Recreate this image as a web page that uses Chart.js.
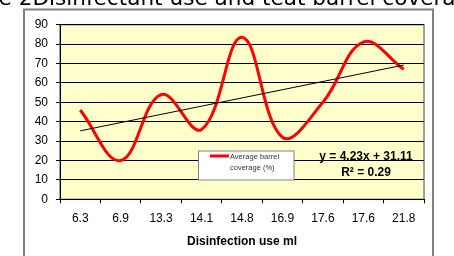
<!DOCTYPE html>
<html>
<head>
<meta charset="utf-8">
<script src="https://cdn.jsdelivr.net/npm/chart.js@4/dist/chart.umd.min.js"></script>
<style>
html,body{margin:0;padding:0;background:#fff;overflow:hidden;}
#wrap{width:454px;height:256px;position:relative;}
</style>
</head>
<body>
<div id="wrap"><canvas id="c" width="454" height="256"></canvas></div>
<script>
const titleText = "Figure 2Disinfectant use and teat barrel coverage";
const categories = ["6.3","6.9","13.3","14.1","14.8","16.9","17.6","17.6","21.8"];
const coverage = [46, 20, 54, 36, 83.5, 32, 50, 81, 67];
const trendValues = [35.3, null, null, null, null, null, null, null, 69.2];
const yTicks = [0,10,20,30,40,50,60,70,80,90];
const seriesLabel = "Average barrel coverage (%)";
const xTitle = "Disinfection use ml";
const equationLines = ["y = 4.23x + 31.11", "R\u00B2 = 0.29"];

const FONT = "'Liberation Sans', Arial, sans-serif";

const decor = {
  id: 'decor',
  beforeDraw(chart) {
    const ctx = chart.ctx, a = chart.chartArea;
    ctx.save();
    ctx.fillStyle = '#fff';
    ctx.fillRect(0,0,chart.width,chart.height);
    ctx.strokeStyle = '#808080';
    ctx.lineWidth = 2;
    ctx.strokeRect(24, 9.5, 409, 260);
    ctx.fillStyle = '#FFFFCC';
    ctx.fillRect(a.left, a.top, a.right - a.left, a.bottom - a.top);
    ctx.strokeStyle = '#808080';
    ctx.lineWidth = 1.5;
    ctx.strokeRect(a.left, a.top, a.right - a.left, a.bottom - a.top);
    // title (clipped by canvas edges)
    ctx.fillStyle = '#000';
    ctx.font = "21.6px 'DejaVu Sans', Verdana, sans-serif";
    ctx.textBaseline = 'alphabetic';
    ctx.textAlign = 'left';
    const off = ctx.measureText("Figur").width;
    ctx.fillText(titleText, -off - 1, 5);
    ctx.restore();
  },
  afterDatasetsDraw(chart) {
    const ctx = chart.ctx;
    ctx.save();
    const lx = 198.5, ly = 151, lw = 95.5, lh = 29;
    ctx.fillStyle = '#fff';
    ctx.fillRect(lx, ly, lw, lh);
    ctx.strokeStyle = '#808080';
    ctx.lineWidth = 1;
    ctx.strokeRect(lx, ly, lw, lh);
    ctx.strokeStyle = '#FF0000';
    ctx.lineWidth = 3;
    ctx.beginPath(); ctx.moveTo(210, 156); ctx.lineTo(229, 156); ctx.stroke();
    const lbl = chart.data.datasets[1].label;
    const words = lbl.split(' ');
    ctx.fillStyle = '#333';
    ctx.font = "7.5px " + FONT;
    ctx.textBaseline = 'middle';
    ctx.textAlign = 'left';
    ctx.fillText(words.slice(0,2).join(' '), 230, 157);
    ctx.fillText(words.slice(2).join(' '), 230, 167.5);
    ctx.fillStyle = '#000';
    ctx.font = "bold 12px " + FONT;
    ctx.textAlign = 'center';
    ctx.fillText(equationLines[0], 366, 157);
    ctx.fillText(equationLines[1], 366, 172.5);
    ctx.restore();
  }
};

new Chart(document.getElementById('c'), {
  type: 'line',
  data: {
    labels: categories,
    datasets: [
      {
        label: 'Linear trend',
        data: trendValues,
        spanGaps: true,
        borderColor: '#000',
        borderWidth: 1,
        pointRadius: 0,
        tension: 0,
        order: 0
      },
      {
        label: seriesLabel,
        data: coverage,
        borderColor: '#FF0000',
        borderWidth: 3,
        pointRadius: 0,
        tension: 0.4,
        fill: false,
        order: 1
      }
    ]
  },
  plugins: [decor],
  options: {
    responsive: false,
    animation: false,
    devicePixelRatio: 1,
    layout: { padding: { left: 24, right: 30, top: 24.7, bottom: 0 } },
    plugins: {
      legend: { display: false },
      tooltip: { enabled: false },
      title: { display: false }
    },
    scales: {
      x: {
        offset: true,
        grid: { display: true, drawOnChartArea: false, drawTicks: true, tickLength: 4, color: '#000', offset: true },
        border: { display: true, color: '#000', width: 1 },
        ticks: { color: '#000', font: { family: FONT, size: 12 }, padding: 8, maxRotation: 0, autoSkip: false },
        title: { display: true, text: xTitle, color: '#000', font: { family: FONT, size: 12, weight: 'bold' }, padding: { top: 6, bottom: 7 } },
        afterFit(s) { s.height = 56.7; }
      },
      y: {
        min: 0, max: 90,
        afterBuildTicks(s) { s.ticks = yTicks.map(v => ({ value: v })); },
        grid: { color: '#000', lineWidth: 1, tickLength: 4, drawTicks: true },
        border: { display: true, color: '#000', width: 1 },
        ticks: { color: '#000', font: { family: FONT, size: 12 }, padding: 8 },
        afterFit(s) { s.width = 36; }
      }
    }
  }
});
</script>
</body>
</html>
